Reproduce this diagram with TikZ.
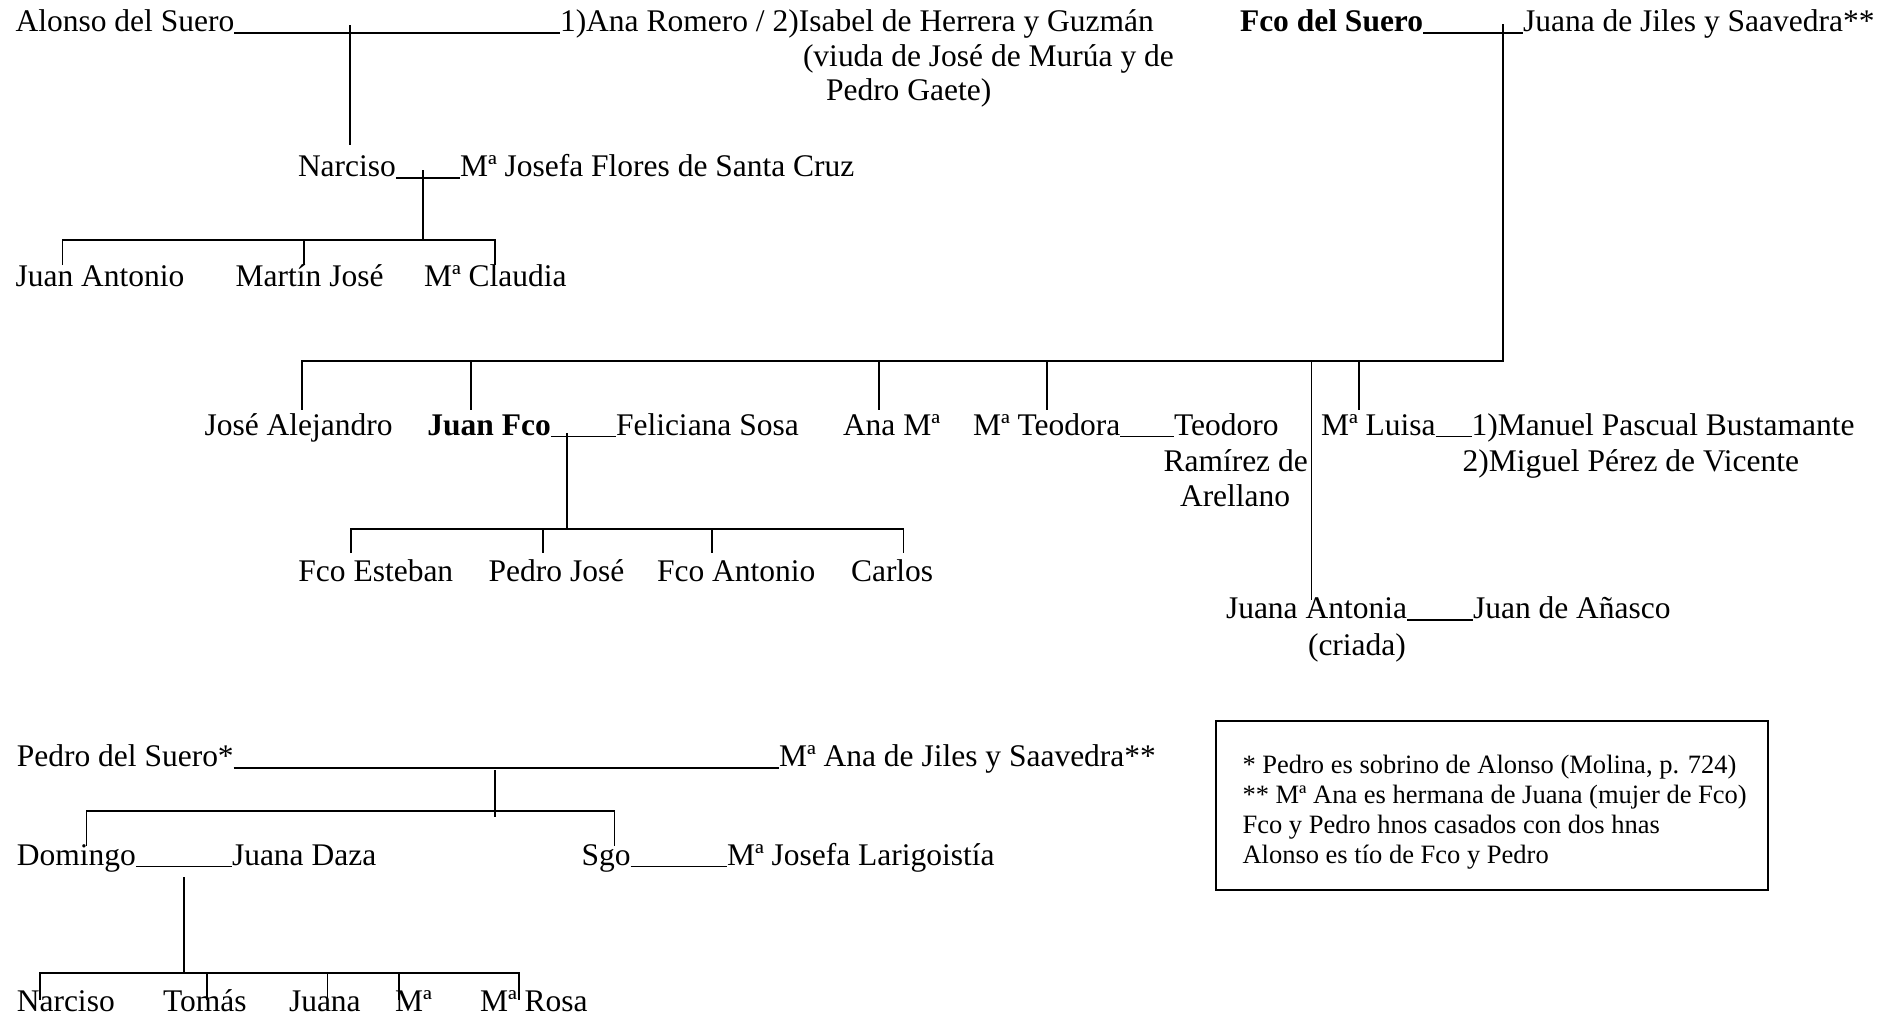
\documentclass[tikz,border=0pt]{standalone}
\usepackage{fontspec}
\setmainfont{Liberation Serif}
\tikzset{
  nm/.style={anchor=base west, inner sep=0pt, outer sep=0pt, font=\fontsize{12}{14}\selectfont},
  nt/.style={anchor=base west, inner sep=0pt, outer sep=0pt, font=\fontsize{10.1}{12}\selectfont},
  ln/.style={line width=0.7pt},
  thin ln/.style={line width=0.5pt},
  ul/.style={line width=0.6pt},
}
\begin{document}
\begin{tikzpicture}[x=0.381pt,y=-0.381pt]
\useasboundingbox (0,0) rectangle (1901,1018);

% ---------- Row 1 ----------
\node[nm] (alonso) at (15.6,31.7) {Alonso del Suero};
\node[nm] (ana) at (560,31.7) {1)Ana Romero / 2)Isabel de Herrera y Guzmán};
\node[nm] (viuda1) at (803,66.7) {(viuda de José de Murúa y de};
\node[nm] (viuda2) at (826,100) {Pedro Gaete)};
\node[nm] (fco) at (1240,31.7) {\textbf{Fco del Suero}};
\node[nm] (juana) at (1523,31.7) {Juana de Jiles y Saavedra**};

\draw[ul] ([yshift=-0.55pt]alonso.base east) -- ([yshift=-0.55pt]ana.base west);
\draw[ul] ([yshift=-0.55pt]fco.base east) -- ([yshift=-0.55pt]juana.base west);

% ---------- Narciso ----------
\node[nm] (narciso) at (298,176.7) {Narciso};
\node[nm] (mjosefa) at (460,176.7) {Mª Josefa Flores de Santa Cruz};
\draw[ul] ([yshift=-0.55pt]narciso.base east) -- ([yshift=-0.55pt]mjosefa.base west);

\coordinate (a1) at (350,25);
\coordinate (a2) at (350,145);
\draw[ln] (a1) -- (a2);

\node[nm] (juanant) at (15.6,286.7) {Juan Antonio};
\node[nm] (martin) at (235.7,286.7) {Martín José};
\node[nm] (mclaudia) at (424,286.7) {Mª Claudia};

\coordinate (n1) at (422.8,170);
\coordinate (n2) at (422.8,240);
\draw[ln] (n1) -- (n2);
\draw[ln] (62.5,265) -- (62.5,240) -- (494.6,240) -- (494.6,265);
\draw[ln] (303.6,240) -- (303.6,265);

% ---------- Fco children ----------
\coordinate (f1) at (1503,24);
\coordinate (f2) at (1503,361);
\draw[ln] (f1) -- (f2) -- (302.4,361) -- (302.4,410);
\foreach \x in {470.8,879,1047,1359.4} \draw[ln] (\x,361) -- (\x,410);
\draw[thin ln] (1311.5,361) -- (1311.5,600);

\node[nm] (josealej) at (204.5,435) {José Alejandro};
\node[nm] (juanfco) at (427.4,435) {\textbf{Juan Fco}};
\node[nm] (feliciana) at (616,435) {Feliciana Sosa};
\node[nm] (anam) at (843,435) {Ana Mª};
\node[nm] (mteodora) at (973,435) {Mª Teodora};
\node[nm] (teodoro) at (1174,435) {Teodoro};
\node[nm] (ramirez) at (1163.5,471.7) {Ramírez de};
\node[nm] (arellano) at (1180,506.7) {Arellano};
\node[nm] (mluisa) at (1321,435) {Mª Luisa};
\node[nm] (manuel) at (1471.5,435) {1)Manuel Pascual Bustamante};
\node[nm] (miguel) at (1462.5,471.7) {2)Miguel Pérez de Vicente};

\draw[ul] ([yshift=-0.55pt]juanfco.base east) -- ([yshift=-0.55pt]feliciana.base west);
\draw[ul] ([yshift=-0.55pt]mteodora.base east) -- ([yshift=-0.55pt]teodoro.base west);
\draw[ul] ([yshift=-0.55pt]mluisa.base east) -- ([yshift=-0.55pt]manuel.base west);

% ---------- Juan Fco children ----------
\coordinate (jf1) at (566.7,433);
\coordinate (jf2) at (566.7,529);
\draw[ln] (jf1) -- (jf2);
\draw[ln] (351,553) -- (351,529) -- (903.5,529) -- (903.5,553);
\foreach \x in {543,711.6} \draw[ln] (\x,529) -- (\x,553);

\node[nm] (fcoesteban) at (298.4,581.7) {Fco Esteban};
\node[nm] (pedrojose) at (488.7,581.7) {Pedro José};
\node[nm] (fcoantonio) at (657,581.7) {Fco Antonio};
\node[nm] (carlos) at (851,581.7) {Carlos};

% ---------- Juana Antonia ----------
\node[nm] (juanaant) at (1226,618.3) {Juana Antonia};
\node[nm] (anasco) at (1473,618.3) {Juan de Añasco};
\node[nm] (criada) at (1308,655) {(criada)};
\draw[ul] ([yshift=-0.55pt]juanaant.base east) -- ([yshift=-0.55pt]anasco.base west);

% ---------- Pedro del Suero ----------
\node[nm] (pedro) at (16.8,766.7) {Pedro del Suero*};
\node[nm] (mana) at (779,766.7) {Mª Ana de Jiles y Saavedra**};
\draw[ul] ([yshift=-0.55pt]pedro.base east) -- ([yshift=-0.55pt]mana.base west);

\coordinate (p1) at (495,770);
\coordinate (p2) at (495,817);
\draw[ln] (p1) -- (p2);
\draw[ln] (86.5,846) -- (86.5,811) -- (614.5,811) -- (614.5,846);

\node[nm] (domingo) at (16.8,865) {Domingo};
\node[nm] (juanadaza) at (232,865) {Juana Daza};
\node[nm] (sgo) at (581.6,865) {Sgo};
\node[nm] (mjlarig) at (727,865) {Mª Josefa Larigoistía};
\draw[ul] ([yshift=-0.55pt]domingo.base east) -- ([yshift=-0.55pt]juanadaza.base west);
\draw[ul] ([yshift=-0.55pt]sgo.base east) -- ([yshift=-0.55pt]mjlarig.base west);

\coordinate (d1) at (183.7,877);
\coordinate (d2) at (183.7,973);
\draw[ln] (d1) -- (d2);
\draw[ln] (39.8,1000) -- (39.8,973) -- (519,973) -- (519,1000);
\foreach \x in {207.4,327.5,398.7} \draw[ln] (\x,973) -- (\x,1000);

\node[nm] (narciso2) at (16.8,1011.7) {Narciso};
\node[nm] (tomas) at (163,1011.7) {Tomás};
\node[nm] (juana2) at (289,1011.7) {Juana};
\node[nm] (ma) at (395,1011.7) {Mª};
\node[nm] (marosa) at (480,1011.7) {Mª Rosa};

% ---------- Note box ----------
\draw[ln] (1215.6,721) rectangle (1767.7,890);
\node[nt] (nota1) at (1242.5,773) {* Pedro es sobrino de Alonso (Molina, p. 724)};
\node[nt] (nota2) at (1242.5,803) {** Mª Ana es hermana de Juana (mujer de Fco)};
\node[nt] (nota3) at (1242.5,833) {Fco y Pedro hnos casados con dos hnas};
\node[nt] (nota4) at (1242.5,863) {Alonso es tío de Fco y Pedro};
\end{tikzpicture}
\end{document}
